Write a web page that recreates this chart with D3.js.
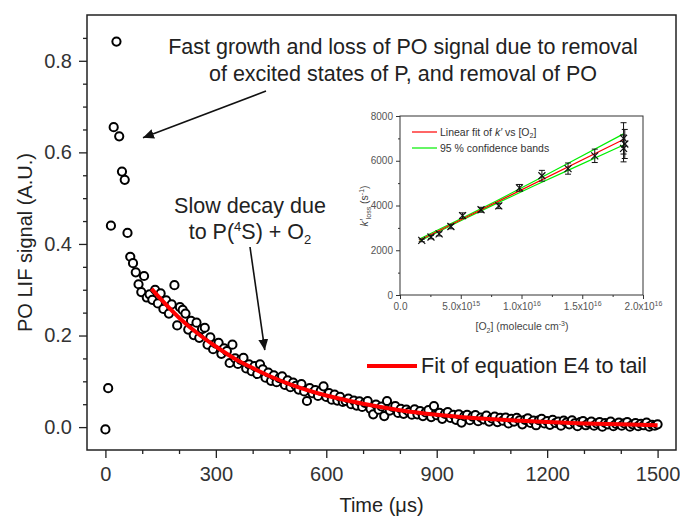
<!DOCTYPE html>
<html>
<head>
<meta charset="utf-8">
<script src="https://cdn.jsdelivr.net/npm/d3@7"></script>
<style>
  body { margin: 0; background: #fff; }
  svg text { font-family: "Liberation Sans", Arial, sans-serif; }
</style>
</head>
<body>
<svg id="chart" width="680" height="516"></svg>
<script>
// ---- PO LIF time trace (µs, arbitrary units) ----
const timeUs = [
  0, 7.5, 15, 22.5, 30, 37.5, 45, 52.5, 60, 67.5,
  75, 82.5, 90, 97.5, 105, 112.5, 120, 127.5, 135, 142.5,
  150, 157.5, 165, 172.5, 180, 187.5, 195, 202.5, 210, 217.5,
  225, 232.5, 240, 247.5, 255, 262.5, 270, 277.5, 285, 292.5,
  300, 307.5, 315, 322.5, 330, 337.5, 345, 352.5, 360, 367.5,
  375, 382.5, 390, 397.5, 405, 412.5, 420, 427.5, 435, 442.5,
  450, 457.5, 465, 472.5, 480, 487.5, 495, 502.5, 510, 517.5,
  525, 532.5, 540, 547.5, 555, 562.5, 570, 577.5, 585, 592.5,
  600, 607.5, 615, 622.5, 630, 637.5, 645, 652.5, 660, 667.5,
  675, 682.5, 690, 697.5, 705, 712.5, 720, 727.5, 735, 742.5,
  750, 757.5, 765, 772.5, 780, 787.5, 795, 802.5, 810, 817.5,
  825, 832.5, 840, 847.5, 855, 862.5, 870, 877.5, 885, 892.5,
  900, 907.5, 915, 922.5, 930, 937.5, 945, 952.5, 960, 967.5,
  975, 982.5, 990, 997.5, 1005, 1012.5, 1020, 1027.5, 1035, 1042.5,
  1050, 1057.5, 1065, 1072.5, 1080, 1087.5, 1095, 1102.5, 1110, 1117.5,
  1125, 1132.5, 1140, 1147.5, 1155, 1162.5, 1170, 1177.5, 1185, 1192.5,
  1200, 1207.5, 1215, 1222.5, 1230, 1237.5, 1245, 1252.5, 1260, 1267.5,
  1275, 1282.5, 1290, 1297.5, 1305, 1312.5, 1320, 1327.5, 1335, 1342.5,
  1350, 1357.5, 1365, 1372.5, 1380, 1387.5, 1395, 1402.5, 1410, 1417.5,
  1425, 1432.5, 1440, 1447.5, 1455, 1462.5, 1470, 1477.5, 1485, 1492.5,
  1500
];
const lifSignal = [
  -0.005, 0.085, 0.440, 0.655, 0.842, 0.635, 0.558, 0.540, 0.424, 0.372,
  0.358, 0.338, 0.312, 0.295, 0.330, 0.283, 0.290, 0.278, 0.300, 0.270,
  0.292, 0.258, 0.277, 0.248, 0.268, 0.310, 0.222, 0.262, 0.256, 0.248,
  0.213, 0.232, 0.201, 0.228, 0.195, 0.214, 0.217, 0.180, 0.196, 0.170,
  0.182, 0.184, 0.160, 0.172, 0.166, 0.140, 0.180, 0.150, 0.138, 0.147,
  0.151, 0.128, 0.137, 0.122, 0.133, 0.116, 0.137, 0.126, 0.108, 0.119,
  0.101, 0.113, 0.098, 0.107, 0.111, 0.092, 0.102, 0.087, 0.097, 0.090,
  0.082, 0.094, 0.078, 0.057, 0.085, 0.074, 0.081, 0.068, 0.079, 0.089,
  0.066, 0.074, 0.060, 0.071, 0.058, 0.066, 0.055, 0.057, 0.062, 0.050,
  0.058, 0.047, 0.056, 0.044, 0.053, 0.057, 0.040, 0.028, 0.049, 0.038,
  0.045, 0.024, 0.057, 0.036, 0.044, 0.046, 0.031, 0.040, 0.029, 0.038,
  0.033, 0.027, 0.039, 0.028, 0.035, 0.024, 0.032, 0.037, 0.022, 0.046,
  0.026, 0.031, 0.018, 0.029, 0.033, 0.020, 0.027, 0.016, 0.028, 0.010,
  0.024, 0.027, 0.015, 0.023, 0.026, 0.013, 0.021, 0.017, 0.025, 0.012,
  0.019, 0.023, 0.011, 0.020, 0.014, 0.021, 0.008, 0.018, 0.012, 0.020,
  0.015, 0.006, 0.016, 0.019, 0.009, 0.014, 0.004, 0.015, 0.018, 0.008,
  0.013, 0.005, 0.016, 0.009, 0.012, 0.003, 0.014, 0.010, 0.006, 0.015,
  0.008, 0.002, 0.011, 0.013, 0.004, 0.009, 0.012, 0.003, 0.008, 0.011,
  0.001, 0.009, 0.006, 0.012, 0.002, 0.007, 0.010, 0.003, 0.008, 0.011,
  0.001, 0.006, 0.009, 0.002, 0.007, 0.004, 0.010, 0.001, 0.005, 0.003,
  0.006
];

// ---- Fit of equation E4 to the tail ----
const fitTimeUs = [125, 150, 200, 250, 300, 350, 400, 450, 500, 600, 700, 800, 900, 1000, 1100, 1200, 1300, 1400, 1500];
const fitSignal = [0.302, 0.280, 0.239, 0.205, 0.176, 0.150, 0.129, 0.110, 0.094, 0.069, 0.051, 0.037, 0.027, 0.020, 0.015, 0.011, 0.008, 0.006, 0.004];

// ---- Main axis ticks ----
const xMajorTicks = [0, 300, 600, 900, 1200, 1500];
const xMinorTicks = [100, 200, 400, 500, 700, 800, 1000, 1100, 1300, 1400];
const yMajorTicks = [0, 0.2, 0.4, 0.6, 0.8];
const yMinorTicks = [0.05, 0.1, 0.15, 0.25, 0.3, 0.35, 0.45, 0.5, 0.55, 0.65, 0.7, 0.75, 0.85];

// ---- Inset: pseudo-first-order rate vs [O2] ----
const o2Conc  = [1.79e15, 2.55e15, 3.22e15, 4.19e15, 5.15e15, 6.67e15, 8.13e15, 9.83e15, 1.168e16, 1.383e16, 1.603e16, 1.84e16, 1.85e16, 1.84e16];
const kLoss   = [2440, 2590, 2730, 3060, 3550, 3810, 3980, 4790, 5330, 5650, 6220, 7000, 6750, 6550];
const kLossErr = [60, 80, 90, 100, 120, 110, 120, 150, 240, 250, 300, 700, 650, 600];
const fitO2   = [1.6e15, 1.84e16];
const fitK    = [2450, 6950];
const bandO2  = [1.6e15, 5e15, 8e15, 1.1e16, 1.4e16, 1.84e16];
const bandUpper = [2500, 3406, 4225, 5069, 5933, 7202];
const bandLower = [2400, 3316, 4105, 4869, 5613, 6702];
const insetXTicks = [0, 5e15, 1e16, 1.5e16, 2e16];
const insetXMinor = [2.5e15, 7.5e15, 1.25e16, 1.75e16];
const insetYTicks = [0, 2000, 4000, 6000, 8000];
const insetYMinor = [1000, 3000, 5000, 7000];

// ---------------------------------------------------------------
const svg = d3.select('#chart');
const M = { left: 87, top: 15, right: 676, bottom: 450 };
const x = d3.scaleLinear().domain([-50, 1550]).range([M.left, M.right]);
const y = d3.scaleLinear().domain([-0.05, 0.9]).range([M.bottom, M.top]);
const axisColor = '#222';
const mainFont = 20;
const noteFont = 21.5;

function styleAxis(g) {
  g.select('.domain').remove();
  g.selectAll('line').attr('stroke', axisColor).attr('stroke-width', 1.3);
}

// minor ticks
svg.append('g').attr('transform', `translate(0,${M.bottom})`)
  .call(d3.axisBottom(x).tickValues(xMinorTicks).tickSize(4).tickFormat(''))
  .call(styleAxis);
svg.append('g').attr('transform', `translate(${M.left},0)`)
  .call(d3.axisLeft(y).tickValues(yMinorTicks).tickSize(4).tickFormat(''))
  .call(styleAxis);

// major ticks + labels
svg.append('g').attr('transform', `translate(0,${M.bottom})`)
  .call(d3.axisBottom(x).tickValues(xMajorTicks).tickSize(8).tickPadding(9).tickFormat(d3.format('d')))
  .call(styleAxis)
  .call(g => g.selectAll('text').attr('font-size', mainFont).attr('fill', '#333')
    .attr('font-family', '"Liberation Sans", Arial, sans-serif'));
svg.append('g').attr('transform', `translate(${M.left},0)`)
  .call(d3.axisLeft(y).tickValues(yMajorTicks).tickSize(8).tickPadding(7).tickFormat(d3.format('.1f')))
  .call(styleAxis)
  .call(g => g.selectAll('text').attr('font-size', mainFont).attr('fill', '#333')
    .attr('font-family', '"Liberation Sans", Arial, sans-serif'));

// frame
svg.append('rect')
  .attr('x', M.left).attr('y', M.top)
  .attr('width', M.right - M.left).attr('height', M.bottom - M.top)
  .attr('fill', 'none').attr('stroke', axisColor).attr('stroke-width', 1.5);

// axis titles
svg.append('text')
  .attr('x', (x(0) + x(1500)) / 2).attr('y', 512)
  .attr('text-anchor', 'middle').attr('font-size', mainFont).attr('fill', '#222')
  .text('Time (μs)');
svg.append('text')
  .attr('transform', `translate(32,${(M.top + M.bottom) / 2 + 10}) rotate(-90)`)
  .attr('text-anchor', 'middle').attr('font-size', mainFont).attr('fill', '#222')
  .text('PO LIF signal (A.U.)');

// data points
const pts = d3.zip(timeUs, lifSignal);
svg.append('g').selectAll('circle').data(pts).join('circle')
  .attr('cx', d => x(d[0])).attr('cy', d => y(d[1]))
  .attr('r', 4.1).attr('fill', '#fff')
  .attr('stroke', '#000').attr('stroke-width', 2);

// fitted tail
svg.append('path')
  .datum(d3.zip(fitTimeUs, fitSignal))
  .attr('d', d3.line().x(d => x(d[0])).y(d => y(d[1])).curve(d3.curveMonotoneX))
  .attr('fill', 'none').attr('stroke', '#ff0000').attr('stroke-width', 4);

// arrowhead marker
svg.append('defs').append('marker')
  .attr('id', 'arrow').attr('viewBox', '0 0 10 10')
  .attr('refX', 10).attr('refY', 5)
  .attr('markerWidth', 11).attr('markerHeight', 11)
  .attr('markerUnits', 'userSpaceOnUse')
  .attr('orient', 'auto')
  .append('path').attr('d', 'M0,0.5 L10,5 L0,9.5 Z').attr('fill', '#111');

// annotation: fast growth
const note1 = svg.append('text').attr('text-anchor', 'middle').attr('font-size', noteFont).attr('fill', '#222');
note1.append('tspan').attr('x', 403).attr('y', 54).text('Fast growth and loss of PO signal due to removal');
note1.append('tspan').attr('x', 403).attr('y', 81).text('of excited states of P, and removal of PO');
svg.append('line')
  .attr('x1', 266).attr('y1', 91).attr('x2', x(102)).attr('y2', y(0.632))
  .attr('stroke', '#111').attr('stroke-width', 1.6).attr('marker-end', 'url(#arrow)');

// annotation: slow decay
const note2 = svg.append('text').attr('text-anchor', 'middle').attr('font-size', noteFont).attr('fill', '#222');
note2.append('tspan').attr('x', 250).attr('y', 213).text('Slow decay due');
const l2 = note2.append('tspan').attr('x', 250).attr('y', 239);
l2.append('tspan').text('to P(');
l2.append('tspan').attr('font-size', 13).attr('dy', -8).text('4');
l2.append('tspan').attr('dy', 8).text('S) + O');
l2.append('tspan').attr('font-size', 13).attr('dy', 5).text('2');
svg.append('line')
  .attr('x1', 250).attr('y1', 247).attr('x2', x(433)).attr('y2', y(0.168))
  .attr('stroke', '#111').attr('stroke-width', 1.6).attr('marker-end', 'url(#arrow)');

// legend for fit
svg.append('line').attr('x1', 367).attr('x2', 417).attr('y1', 366).attr('y2', 366)
  .attr('stroke', '#ff0000').attr('stroke-width', 4);
svg.append('text').attr('x', 421).attr('y', 373).attr('font-size', noteFont).attr('fill', '#222')
  .text('Fit of equation E4 to tail');

// ---------------- inset ----------------
const ix = d3.scaleLinear().domain([0, 2e16]).range([400, 643]);
const iy = d3.scaleLinear().domain([0, 8000]).range([295, 116]);
const inset = svg.append('g');
const tickFont = 10;

function styleInsetAxis(g) {
  g.select('.domain').remove();
  g.selectAll('line').attr('stroke', '#333').attr('stroke-width', 1);
  g.selectAll('text').attr('font-size', tickFont).attr('fill', '#555')
    .attr('font-family', '"Liberation Sans", Arial, sans-serif');
}

inset.append('g').attr('transform', 'translate(0,295)')
  .call(d3.axisBottom(ix).tickValues(insetXMinor).tickSize(2).tickFormat(''))
  .call(styleInsetAxis);
inset.append('g').attr('transform', 'translate(400,0)')
  .call(d3.axisLeft(iy).tickValues(insetYMinor).tickSize(2).tickFormat(''))
  .call(styleInsetAxis);
inset.append('g').attr('transform', 'translate(0,295)')
  .call(d3.axisBottom(ix).tickValues(insetXTicks).tickSize(4).tickPadding(4))
  .call(styleInsetAxis)
  .call(g => g.selectAll('text').each(function (d) {
    const t = d3.select(this).text(null);
    if (d === 0) { t.text('0.0'); return; }
    const e = Math.floor(Math.log10(d) + 1e-9);
    const m = d / Math.pow(10, e);
    t.append('tspan').text(m.toFixed(1) + 'x10');
    t.append('tspan').attr('font-size', 7).attr('dy', '-0.55em').text(e);
  }));
inset.append('g').attr('transform', 'translate(400,0)')
  .call(d3.axisLeft(iy).tickValues(insetYTicks).tickSize(4).tickPadding(3).tickFormat(d3.format('d')))
  .call(styleInsetAxis);

inset.append('rect').attr('x', 400).attr('y', 116).attr('width', 243).attr('height', 179)
  .attr('fill', 'none').attr('stroke', '#333').attr('stroke-width', 1);

// confidence bands and linear fit
const iline = d3.line().x(d => ix(d[0])).y(d => iy(d[1]));
inset.append('path').datum(d3.zip(bandO2, bandUpper)).attr('d', iline)
  .attr('fill', 'none').attr('stroke', '#00ee00').attr('stroke-width', 1.2);
inset.append('path').datum(d3.zip(bandO2, bandLower)).attr('d', iline)
  .attr('fill', 'none').attr('stroke', '#00ee00').attr('stroke-width', 1.2);
inset.append('path').datum(d3.zip(fitO2, fitK)).attr('d', iline)
  .attr('fill', 'none').attr('stroke', '#ff0000').attr('stroke-width', 1.2);

// points with error bars
const ipts = d3.zip(o2Conc, kLoss, kLossErr);
const pg = inset.append('g').attr('stroke', '#111').attr('stroke-width', 1).attr('fill', 'none');
pg.selectAll('path.err').data(ipts).join('path').attr('class', 'err')
  .attr('d', d => {
    const cx = ix(d[0]), y1 = iy(d[1] + d[2]), y2 = iy(d[1] - d[2]);
    return `M${cx - 3},${y1}H${cx + 3}M${cx},${y1}V${y2}M${cx - 3},${y2}H${cx + 3}`;
  });
pg.selectAll('path.mk').data(ipts).join('path').attr('class', 'mk')
  .attr('stroke-width', 1.2)
  .attr('d', d => {
    const cx = ix(d[0]), cy = iy(d[1]), s = 3.5;
    return `M${cx - s},${cy - s}L${cx + s},${cy + s}M${cx - s},${cy + s}L${cx + s},${cy - s}`;
  });

// inset legend
inset.append('line').attr('x1', 412).attr('x2', 437).attr('y1', 132).attr('y2', 132)
  .attr('stroke', '#ff0000').attr('stroke-width', 1.2);
const lg1 = inset.append('text').attr('x', 440).attr('y', 135.5).attr('font-size', 10.5).attr('fill', '#333');
lg1.append('tspan').text('Linear fit of ');
lg1.append('tspan').attr('font-style', 'italic').text('k′');
lg1.append('tspan').text(' vs [O');
lg1.append('tspan').attr('font-size', 7).attr('dy', 2.5).text('2');
lg1.append('tspan').attr('dy', -2.5).text(']');
inset.append('line').attr('x1', 412).attr('x2', 437).attr('y1', 148).attr('y2', 148)
  .attr('stroke', '#00ee00').attr('stroke-width', 1.2);
inset.append('text').attr('x', 440).attr('y', 151.5).attr('font-size', 10.5).attr('fill', '#333')
  .text('95 % confidence bands');

// inset axis titles
const ixt = inset.append('text').attr('x', 522).attr('y', 330).attr('text-anchor', 'middle')
  .attr('font-size', 10.5).attr('fill', '#444');
ixt.append('tspan').text('[O');
ixt.append('tspan').attr('font-size', 7).attr('dy', 2.5).text('2');
ixt.append('tspan').attr('dy', -2.5).text('] (molecule cm');
ixt.append('tspan').attr('font-size', 7).attr('dy', -4).text('-3');
ixt.append('tspan').attr('dy', 4).text(')');

const iyt = inset.append('text').attr('transform', 'translate(368,206) rotate(-90)')
  .attr('text-anchor', 'middle').attr('font-size', 10.5).attr('fill', '#444');
iyt.append('tspan').attr('font-style', 'italic').text('k′');
iyt.append('tspan').attr('font-size', 7).attr('dy', 2.5).text('loss');
iyt.append('tspan').attr('dy', -2.5).text(' (s');
iyt.append('tspan').attr('font-size', 7).attr('dy', -4).text('-1');
iyt.append('tspan').attr('dy', 4).text(')');
</script>
</body>
</html>
